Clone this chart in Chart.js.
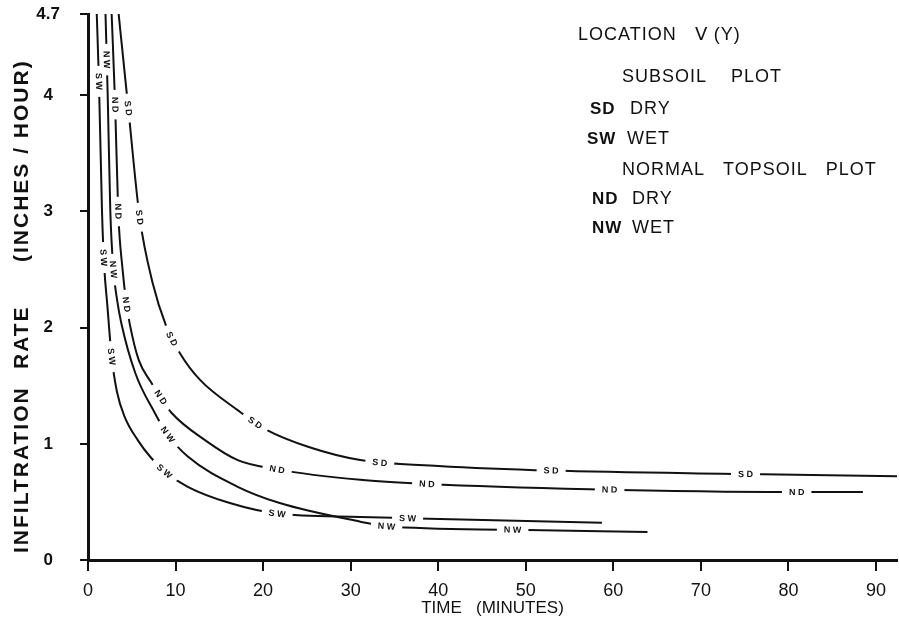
<!DOCTYPE html>
<html>
<head>
<meta charset="utf-8">
<script src="https://cdn.jsdelivr.net/npm/chart.js@4.4.1/dist/chart.umd.min.js"></script>
<style>
  html, body { margin: 0; padding: 0; background: #fff; }
  #wrap { width: 899px; height: 625px; }
</style>
</head>
<body>
<div id="wrap"><canvas id="chart"></canvas></div>
<script>
// minutes / inches per hour
const sdTime = [3.5, 4.6, 5.9, 7.4, 8.9, 10.5, 12.8, 17.1, 20.4, 25.3, 31.1, 40, 52.9, 75.1, 92.4];
const sdRate = [4.7, 3.89, 2.95, 2.38, 2.02, 1.78, 1.55, 1.29, 1.12, 0.97, 0.86, 0.81, 0.77, 0.74, 0.72];

const ndTime = [2.7, 3.1, 3.45, 3.95, 4.4, 4.8, 5.8, 7.2, 8.3, 9.5, 13.4, 17.1, 21.6, 31.1, 38.7, 57.3, 80.1, 88.5];
const ndRate = [4.7, 3.92, 3.0, 2.5, 2.2, 2.02, 1.72, 1.53, 1.40, 1.27, 1.03, 0.86, 0.78, 0.69, 0.655, 0.61, 0.586, 0.586];

const nwTime = [2.0, 2.25, 2.55, 2.9, 3.3, 3.8, 5.4, 7.6, 9.1, 11.4, 17.1, 21.9, 31.1, 34.1, 48.5, 63.9];
const nwRate = [4.7, 4.0, 3.0, 2.5, 2.25, 2.04, 1.61, 1.27, 1.08, 0.89, 0.63, 0.49, 0.33, 0.29, 0.26, 0.24];

const swTime = [1.0, 1.25, 1.6, 1.85, 2.2, 2.7, 3.3, 4.2, 5.7, 7.2, 8.8, 11.4, 16.2, 21.6, 31.1, 36.5, 58.7];
const swRate = [4.7, 4.12, 3.0, 2.53, 2.2, 1.75, 1.45, 1.23, 1.03, 0.88, 0.76, 0.63, 0.49, 0.40, 0.37, 0.36, 0.32];

// where the curve codes are lettered into each line [time, rate]
const sdTags = [[4.6, 3.89], [5.9, 2.95], [9.7, 1.91], [19.1, 1.19], [33.4, 0.85], [52.9, 0.77], [75.1, 0.74]];
const ndTags = [[3.1, 3.92], [3.4, 3.0], [4.4, 2.2], [8.3, 1.40], [21.6, 0.78], [38.7, 0.655], [59.4, 0.61], [80.9, 0.586]];
const nwTags = [[2.15, 4.31], [2.85, 2.5], [9.1, 1.08], [34.1, 0.29], [48.5, 0.26]];
const swTags = [[1.26, 4.12], [1.8, 2.6], [2.7, 1.75], [8.8, 0.77], [21.6, 0.40], [36.5, 0.36]];

const yTicks = [0, 1, 2, 3, 4, 4.7];

// [code, words, x, baseline]
const legendLines = [
  ['', 'LOCATION   \u2164 (Y)', 578, 40],
  ['', 'SUBSOIL    PLOT', 622, 82],
  ['SD', 'DRY', 590, 114],
  ['SW', 'WET', 587, 144],
  ['', 'NORMAL   TOPSOIL   PLOT', 622, 175],
  ['ND', 'DRY', 592, 204],
  ['NW', 'WET', 592, 233]
];

// vertical caption pieces: [text, lower end in px]
const yCaption = [['INFILTRATION', 553], ['RATE', 369], ['(INCHES / HOUR)', 262]];

const BLACK = '#111';

function pts(xs, ys) {
  return xs.map(function (x, i) { return { x: x, y: ys[i] }; });
}

function curve(code, xs, ys, tags) {
  return {
    label: code,
    data: pts(xs, ys),
    tags: tags,
    borderColor: BLACK,
    borderWidth: 2,
    pointRadius: 0,
    fill: false,
    cubicInterpolationMode: 'monotone'
  };
}

// sample the drawn bezier pieces and find the spot nearest to a tag
function nearestOnCurve(meta, tx, ty) {
  const p = meta.data;
  let best = null;
  for (let i = 0; i < p.length - 1; i++) {
    const a = p[i], b = p[i + 1];
    const c1x = a.cp2x, c1y = a.cp2y, c2x = b.cp1x, c2y = b.cp1y;
    for (let k = 0; k <= 40; k++) {
      const t = k / 40, u = 1 - t;
      const x = u*u*u*a.x + 3*u*u*t*c1x + 3*u*t*t*c2x + t*t*t*b.x;
      const y = u*u*u*a.y + 3*u*u*t*c1y + 3*u*t*t*c2y + t*t*t*b.y;
      const dx = 3*u*u*(c1x - a.x) + 6*u*t*(c2x - c1x) + 3*t*t*(b.x - c2x);
      const dy = 3*u*u*(c1y - a.y) + 6*u*t*(c2y - c1y) + 3*t*t*(b.y - c2y);
      const d = (x - tx) * (x - tx) + (y - ty) * (y - ty);
      if (!best || d < best.d) best = { d: d, x: x, y: y, ang: Math.atan2(dy, dx) };
    }
  }
  return best;
}

const curveTags = {
  id: 'curveTags',
  afterDatasetsDraw(chart) {
    const ctx = chart.ctx;
    const xs = chart.scales.x, ys = chart.scales.y;
    ctx.save();
    ctx.font = 'bold 9px "Liberation Sans", sans-serif';
    ctx.textAlign = 'center';
    ctx.textBaseline = 'middle';
    chart.data.datasets.forEach(function (ds, di) {
      const meta = chart.getDatasetMeta(di);
      ds.tags.forEach(function (tg) {
        const hit = nearestOnCurve(meta, xs.getPixelForValue(tg[0]), ys.getPixelForValue(tg[1]));
        const txt = ds.label.split('').join(' ');
        const w = ctx.measureText(txt).width;
        ctx.save();
        ctx.translate(hit.x, hit.y);
        ctx.rotate(hit.ang);
        ctx.fillStyle = '#fff';
        ctx.fillRect(-w / 2 - 7, -5, w + 14, 10);
        ctx.fillStyle = BLACK;
        ctx.fillText(txt, 0, 0.5);
        ctx.restore();
      });
    });
    ctx.restore();
  }
};

const plateText = {
  id: 'plateText',
  afterDraw(chart) {
    const ctx = chart.ctx;
    ctx.save();
    ctx.fillStyle = BLACK;
    ctx.textBaseline = 'alphabetic';
    ctx.textAlign = 'left';
    ctx.letterSpacing = '1px';
    legendLines.forEach(function (ln) {
      let x = ln[2];
      if (ln[0]) {
        ctx.font = 'bold 17px "Liberation Sans", sans-serif';
        ctx.fillText(ln[0], x, ln[3]);
        x += 40;
      }
      ctx.font = '18px "Liberation Sans", sans-serif';
      ctx.fillText(ln[1], x, ln[3]);
    });

    // vertical axis caption
    ctx.font = 'bold 21px "Liberation Sans", sans-serif';
    ctx.letterSpacing = '2px';
    ctx.textBaseline = 'middle';
    yCaption.forEach(function (part) {
      ctx.save();
      ctx.translate(22, part[1]);
      ctx.rotate(-Math.PI / 2);
      ctx.fillText(part[0], 0, 0);
      ctx.restore();
    });
    ctx.restore();
  }
};

new Chart(document.getElementById('chart'), {
  type: 'line',
  data: {
    datasets: [
      curve('SD', sdTime, sdRate, sdTags),
      curve('ND', ndTime, ndRate, ndTags),
      curve('NW', nwTime, nwRate, nwTags),
      curve('SW', swTime, swRate, swTags)
    ]
  },
  options: {
    responsive: true,
    maintainAspectRatio: false,
    animation: false,
    events: [],
    layout: { padding: { top: 14, right: 2, left: 0, bottom: 0 } },
    plugins: {
      legend: { display: false },
      tooltip: { enabled: false }
    },
    scales: {
      x: {
        type: 'linear',
        min: 0,
        max: 92.4,
        afterFit: function (s) { s.height = 65; },
        border: { display: true, color: BLACK, width: 3 },
        grid: { drawOnChartArea: false, color: BLACK, lineWidth: 2, tickLength: 11 },
        ticks: {
          stepSize: 10,
          includeBounds: false,
          color: BLACK,
          padding: 9,
          maxRotation: 0,
          font: { family: '"Liberation Sans", sans-serif', size: 18 }
        },
        title: {
          display: true,
          text: 'TIME   (MINUTES)',
          color: BLACK,
          padding: { top: 0, bottom: 6 },
          font: { family: '"Liberation Sans", sans-serif', size: 17 }
        }
      },
      y: {
        type: 'linear',
        min: 0,
        max: 4.7,
        afterFit: function (s) {
          s.width = 88;
          s.paddingTop = 0;
          s.paddingBottom = 0;
        },
        afterBuildTicks: function (s) { s.ticks = yTicks.map(function (v) { return { value: v }; }); },
        border: { display: true, color: BLACK, width: 3 },
        grid: { drawOnChartArea: false, color: BLACK, lineWidth: 2, tickLength: 8 },
        ticks: {
          color: BLACK,
          crossAlign: 'center',
          padding: 20,
          font: { family: '"Liberation Sans", sans-serif', size: 17, weight: 'bold' }
        }
      }
    }
  },
  plugins: [curveTags, plateText]
});
</script>
</body>
</html>
